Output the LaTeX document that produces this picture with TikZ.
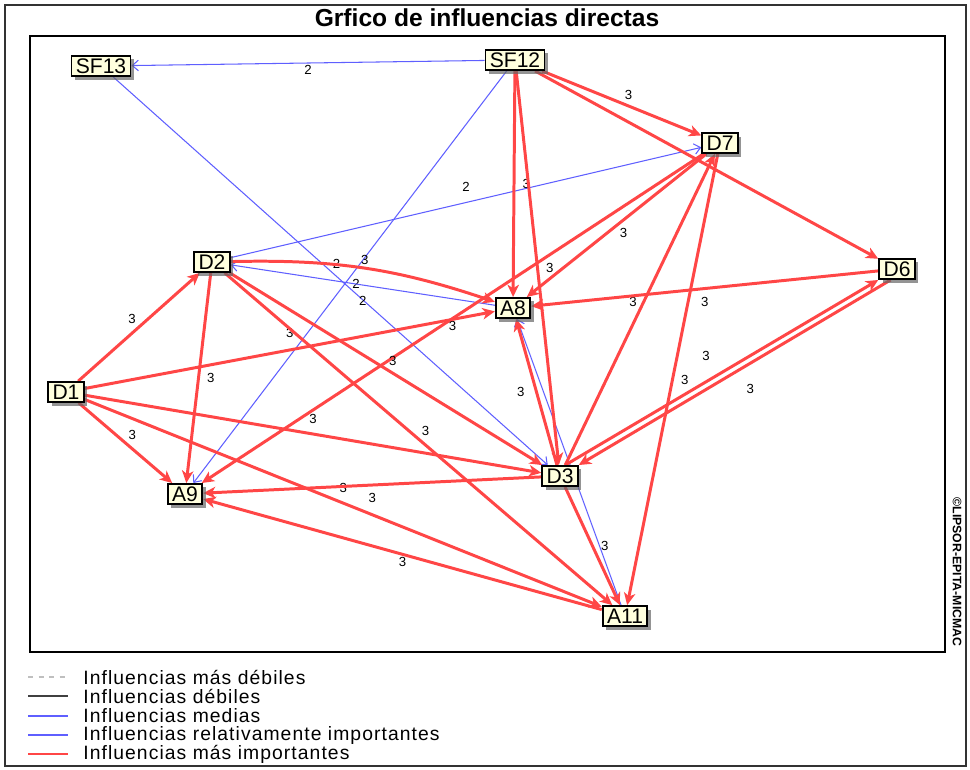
\documentclass[tikz,border=0pt]{standalone}
\usepackage{fontspec}
\setmainfont{Liberation Sans}
\usepackage{xcolor}
\usetikzlibrary{arrows.meta,shadows,backgrounds}

\definecolor{varfill}{RGB}{255,255,222}
\definecolor{strongred}{RGB}{255,70,70}
\definecolor{midblue}{RGB}{95,95,255}

\begin{document}
\begin{tikzpicture}[
    x=0.02cm, y=0.02cm,
    varbox/.style={draw, line width=1pt, fill=varfill, text=black,
                   font=\fontsize{12}{14}\selectfont, inner xsep=2.5pt,
                   inner ysep=1.5pt, minimum height=0.4cm,
                   drop shadow={shadow xshift=2pt, shadow yshift=-2pt,
                                fill=black!60, opacity=0.7}},
    strong/.style={strongred, line width=1.7pt,
                   -{Stealth[length=7pt, width=6.5pt, inset=2pt]}},
    medium/.style={midblue, line width=0.6pt,
                   -{Straight Barb[length=3.5pt, width=6pt]}},
    lbl/.style={font=\fontsize{7.5}{9}\selectfont, inner sep=1pt, text=black},
    legline/.style={line width=0.6pt},
    legtext/.style={anchor=west, inner sep=0pt,
                    font=\fontsize{11}{13}\selectfont\addfontfeature{LetterSpace=5.5}},
  ]
    \useasboundingbox (0,0) rectangle (970,-769);

    % Variables
    \node[varbox] (sf13) at (101,-66)  {SF13};
    \node[varbox] (sf12) at (515,-60)  {SF12};
    \node[varbox] (d7)   at (720,-143) {D7};
    \node[varbox] (d2)   at (212,-262) {D2};
    \node[varbox] (d6)   at (897,-269) {D6};
    \node[varbox] (a8)   at (513,-308) {A8};
    \node[varbox] (d1)   at (66,-392)  {D1};
    \node[varbox] (d3)   at (560,-476) {D3};
    \node[varbox] (a9)   at (185,-494) {A9};
    \node[varbox] (a11)  at (625,-616) {A11};

    % Title and frames
    \node[font=\fontsize{14}{16}\selectfont\bfseries] (title) at (487,-18)
          {Grfico de influencias directas};
    \node[font=\fontsize{7}{8}\selectfont\bfseries, rotate=-90] (copy)
          at (957,-572) {©LIPSOR-EPITA-MICMAC};

    \begin{scope}[on background layer]
      \draw[line width=0.9pt, black!80] (5,-5) rectangle (966,-766);
      \draw[line width=0.8pt] (30,-36) rectangle (945,-652);

      % Influencias medias
      \draw[medium] (sf12) -- (sf13) node[lbl, below, midway] {2};
      \draw[medium] (sf13) -- (d3) node[lbl, above right, midway] {2};
      \draw[medium] (sf12) -- (a9) node[lbl, below right, midway] {2};
      \draw[medium] (a8) -- (d2) node[lbl, below=5pt, midway] {2};
      \draw[medium] (d2) -- (d7) node[lbl, above=5pt, midway] {2};
      \draw[medium] (a11) -- (a8);

      % Influencias mas importantes
      \draw[strong] (sf12) -- (d7) node[lbl, above right, midway] {3};
      \draw[strong] (sf12) -- (d6);
      \draw[strong] (sf12) -- (a8) node[lbl, right=3pt, midway] {3};
      \draw[strong] (sf12) -- (d3) node[lbl, right=3pt, midway] {3};
      \draw[strong] (d7) -- (a8) node[lbl, below right, midway] {3};
      \draw[strong] (d7) -- (a9) node[lbl, below, midway] {3};
      \draw[strong] (d3) -- (d7) node[lbl, above left, midway] {3};
      \draw[strong] (d7) -- (a11) node[lbl, right=3pt, midway] {3};
      \draw[strong] (d1) -- (d2) node[lbl, above left, midway] {3};
      \draw[strong] (d1) -- (a8) node[lbl, above=5pt, midway] {3};
      \draw[strong] (d1) -- (a9) node[lbl, above right, midway] {3};
      \draw[strong] (d1) -- (d3) node[lbl, above=4pt, midway] {3};
      \draw[strong] (d1) -- (a11) node[lbl, above=4pt, midway] {3};
      \draw[strong] (d2) to[bend left=10] node[lbl, above, midway] {3} (a8);
      \draw[strong] (d2) -- (a9) node[lbl, right=3pt, midway] {3};
      \draw[strong] (d2) -- (d3) node[lbl, above right, midway] {3};
      \draw[strong] (d2) -- (a11) node[lbl, above right, midway] {3};
      \draw[strong] (d6) -- (a8) node[lbl, below=3pt, midway] {3};
      \draw[strong] ([xshift=3pt]d3.north) -- (d6.south west)
            node[lbl, above left=5pt, midway] {3};
      \draw[strong] ([xshift=7pt]d6.south west) -- (d3.north east)
            node[lbl, below right=5pt, midway] {3};
      \draw[strong] (d3) -- (a9) node[lbl, below=3pt, midway] {3};
      \draw[strong] (d3) -- (a8) node[lbl, left=5pt, midway] {3};
      \draw[strong] (d3) -- (a11) node[lbl, right=3pt, midway] {3};
      \draw[strong] (a11) -- (a9) node[lbl, below, midway] {3};
    \end{scope}

    % Legend
    \coordinate (leg1) at (28,-677);
    \coordinate (leg2) at (28,-696);
    \coordinate (leg3) at (28,-716);
    \coordinate (leg4) at (28,-735);
    \coordinate (leg5) at (28,-754);
    \draw[legline, black!25, dashed] (leg1) -- ++(40,0);
    \draw[legline, black!75] (leg2) -- ++(40,0);
    \draw[legline, midblue] (leg3) -- ++(40,0);
    \draw[legline, midblue, line width=1.4pt] (leg4) -- ++(40,0);
    \draw[legline, strongred, line width=1.4pt] (leg5) -- ++(40,0);
    \node[legtext] at ([xshift=1.1cm]leg1) {Influencias más débiles};
    \node[legtext] at ([xshift=1.1cm]leg2) {Influencias débiles};
    \node[legtext] at ([xshift=1.1cm]leg3) {Influencias medias};
    \node[legtext] at ([xshift=1.1cm]leg4) {Influencias relativamente importantes};
    \node[legtext] at ([xshift=1.1cm]leg5) {Influencias más importantes};
\end{tikzpicture}
\end{document}
